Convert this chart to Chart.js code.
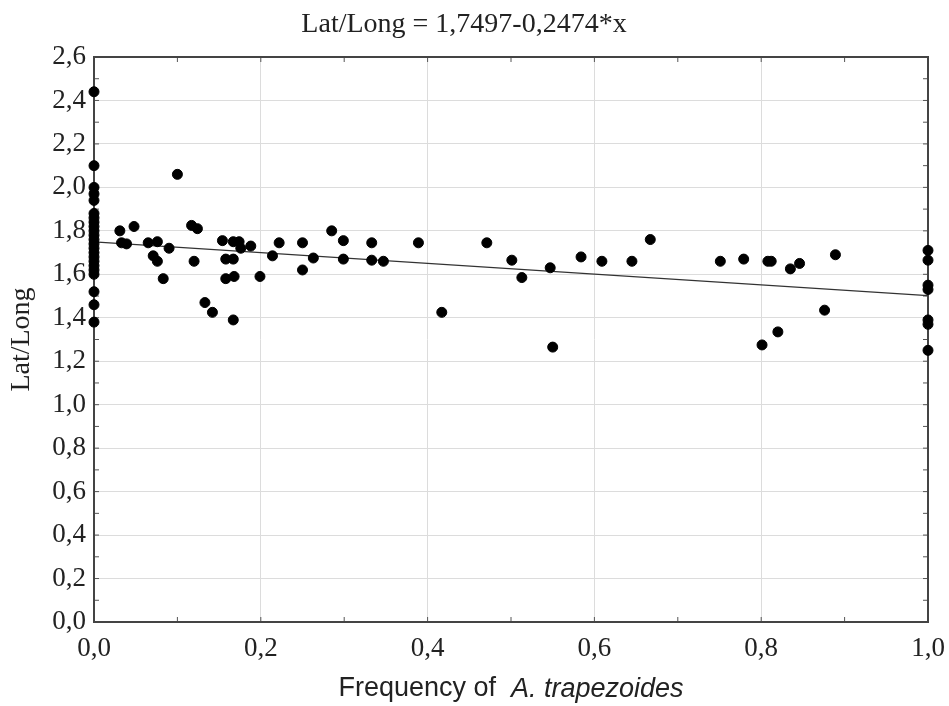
<!DOCTYPE html>
<html>
<head>
<meta charset="utf-8">
<script src="https://cdn.jsdelivr.net/npm/chart.js@4"></script>
<style>
  html, body { margin: 0; padding: 0; background: #fff; }
  #wrap { width: 949px; height: 706px; }
</style>
</head>
<body>
<div id="wrap"><canvas id="chart" width="949" height="706"></canvas></div>
<script>
// Frequency of A. trapezoides (x) vs Lat/Long (y)
const freqX = [
  0, 0, 0, 0, 0, 0, 0, 0, 0, 0, 0, 0, 0, 0, 0, 0, 0, 0, 0, 0, 0, 0, 0,
  0.031, 0.033, 0.039, 0.048, 0.065, 0.071, 0.076, 0.076, 0.083, 0.090, 0.100,
  0.117, 0.124, 0.120, 0.133, 0.142, 0.154, 0.158, 0.158, 0.167, 0.167, 0.168, 0.167,
  0.174, 0.176, 0.188, 0.199, 0.214, 0.222, 0.250, 0.250, 0.263, 0.285, 0.299, 0.299,
  0.333, 0.333, 0.347, 0.389, 0.417, 0.471, 0.501, 0.513, 0.547, 0.550, 0.584, 0.609,
  0.645, 0.667, 0.751, 0.779, 0.808, 0.812, 0.801, 0.820, 0.835, 0.846, 0.876, 0.889,
  1, 1, 1, 1, 1, 1, 1
];
const latLong = [
  2.44, 2.10, 2.00, 1.97, 1.94, 1.88, 1.86, 1.84, 1.82, 1.80, 1.78, 1.76, 1.74, 1.72,
  1.70, 1.68, 1.66, 1.64, 1.62, 1.60, 1.52, 1.46, 1.38,
  1.80, 1.745, 1.74, 1.82, 1.745, 1.685, 1.75, 1.66, 1.58, 1.72, 2.06,
  1.825, 1.81, 1.66, 1.47, 1.425, 1.755, 1.67, 1.58, 1.75, 1.67, 1.59, 1.39,
  1.75, 1.72, 1.73, 1.59, 1.685, 1.745, 1.745, 1.62, 1.675, 1.80, 1.755, 1.67,
  1.745, 1.665, 1.66, 1.745, 1.425, 1.745, 1.665, 1.585, 1.63, 1.265, 1.68, 1.66,
  1.66, 1.76, 1.66, 1.67, 1.66, 1.66, 1.275, 1.335, 1.625, 1.65, 1.435, 1.69,
  1.71, 1.665, 1.55, 1.53, 1.39, 1.37, 1.25
];
const fitIntercept = 1.7497;
const fitSlope = -0.2474;
const titleText = 'Lat/Long = 1,7497-0,2474*x';

const points = freqX.map((x, i) => ({ x: x, y: latLong[i] }));
const fitLine = [0, 1].map(x => ({ x: x, y: fitIntercept + fitSlope * x }));

const serif = '"Liberation Serif", "Times New Roman", serif';
const sans = '"Liberation Sans", Arial, sans-serif';

function comma(v) {
  return v.toFixed(1).replace('.', ',');
}

const framePlugin = {
  id: 'frame',
  beforeDatasetsDraw(chart) {
    const { ctx, chartArea: a, scales } = chart;
    ctx.save();
    ctx.strokeStyle = '#555';
    ctx.lineWidth = 1;
    // small ticks inside the frame every 0.1
    for (let i = 1; i < 10; i++) {
      const px = scales.x.getPixelForValue(i / 10);
      ctx.beginPath();
      ctx.moveTo(px, a.top); ctx.lineTo(px, a.top + 5);
      ctx.moveTo(px, a.bottom); ctx.lineTo(px, a.bottom - 5);
      ctx.stroke();
    }
    for (let i = 1; i < 26; i++) {
      const py = scales.y.getPixelForValue(i / 10);
      ctx.beginPath();
      ctx.moveTo(a.left, py); ctx.lineTo(a.left + 5, py);
      ctx.moveTo(a.right, py); ctx.lineTo(a.right - 5, py);
      ctx.stroke();
    }
    ctx.strokeStyle = '#444';
    ctx.lineWidth = 2;
    ctx.strokeRect(a.left, a.top, a.right - a.left, a.bottom - a.top);
    ctx.restore();
  },
  afterDraw(chart) {
    // x axis title with the species name in italics
    const { ctx, chartArea: a } = chart;
    const part1 = 'Frequency of  ';
    const part2 = 'A. trapezoides';
    ctx.save();
    ctx.fillStyle = '#222';
    ctx.textBaseline = 'middle';
    ctx.font = '27px ' + sans;
    const w1 = ctx.measureText(part1).width;
    ctx.font = 'italic 27px ' + sans;
    const w2 = ctx.measureText(part2).width;
    const start = (a.left + a.right) / 2 - (w1 + w2) / 2;
    ctx.font = '27px ' + sans;
    ctx.fillText(part1, start, 689);
    ctx.font = 'italic 27px ' + sans;
    ctx.fillText(part2, start + w1, 689);
    ctx.restore();
  }
};

new Chart(document.getElementById('chart').getContext('2d'), {
  type: 'scatter',
  data: {
    datasets: [
      {
        type: 'scatter',
        data: points,
        backgroundColor: '#000',
        borderColor: '#000',
        pointRadius: 5,
        pointHoverRadius: 5,
        order: 1,
        clip: false,
      },
      {
        type: 'line',
        data: fitLine,
        borderColor: '#333',
        borderWidth: 1.2,
        pointRadius: 0,
        fill: false,
        order: 2,
      },
    ],
  },
  options: {
    responsive: false,
    animation: false,
    layout: { padding: { right: 21, left: 0, top: 0, bottom: 0 } },
    plugins: {
      legend: { display: false },
      tooltip: { enabled: false },
      title: {
        display: true,
        text: titleText,
        color: '#222',
        font: { family: serif, size: 28, weight: 'normal' },
        padding: { top: 8, bottom: 15.4 },
      },
    },
    scales: {
      x: {
        type: 'linear',
        min: 0,
        max: 1,
        afterFit(scale) {
          scale.height = 84;
          scale.paddingLeft = 0;
          scale.paddingRight = 0;
        },
        ticks: {
          stepSize: 0.2,
          padding: 11,
          color: '#222',
          font: { family: serif, size: 27 },
          callback: v => comma(v),
          maxRotation: 0,
        },
        grid: { color: '#dcdcdc', lineWidth: 1, drawTicks: false },
        border: { display: false },
      },
      y: {
        type: 'linear',
        min: 0,
        max: 2.6,
        afterFit(scale) { scale.width = 94; },
        ticks: {
          stepSize: 0.2,
          padding: 8,
          color: '#222',
          font: { family: serif, size: 27 },
          callback: v => comma(v),
        },
        grid: { color: '#dcdcdc', lineWidth: 1, drawTicks: false },
        border: { display: false },
        title: {
          display: true,
          text: 'Lat/Long',
          color: '#222',
          font: { family: serif, size: 28 },
          padding: { top: 5, bottom: 0 },
        },
      },
    },
  },
  plugins: [framePlugin],
});
</script>
</body>
</html>
